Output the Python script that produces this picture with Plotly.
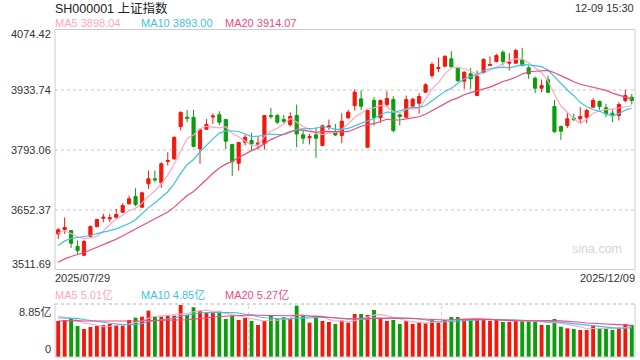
import plotly.graph_objects as go
import pandas as pd
import numpy as np

# ---------------- data ----------------
title_text = "SH000001 上证指数"
time_text = "12-09 15:30"
first_date_label = "2025/07/29"
last_date_label = "2025/12/09"
price_ticks = [4074.42, 3933.74, 3793.06, 3652.37, 3511.69]
ma_legend = ["MA5 3898.04", "MA10 3893.00", "MA20 3914.07"]
vol_legend = ["MA5 5.01亿", "MA10 4.85亿", "MA20 5.27亿"]
vol_ticks = ["8.85亿", "0"]
vol_max = 8.85

opens = [3595.3, 3605.4, 3603.0, 3565.5, 3545.1, 3589.7, 3612.4, 3631.9, 3630.5, 3634.2,
         3646.0, 3665.7, 3682.8, 3657.7, 3712.6, 3724.3, 3714.9, 3764.9, 3771.2, 3846.9,
         3868.7, 3868.0, 3794.6, 3840.6, 3869.2, 3874.6, 3863.3, 3804.7, 3760.9, 3810.1,
         3814.1, 3805.4, 3806.4, 3872.7, 3872.7, 3863.3, 3851.2, 3872.7, 3827.5, 3820.4,
         3827.5, 3802.4, 3846.2, 3835.2, 3825.8, 3867.3, 3896.2, 3911.9, 3798.4, 3907.9,
         3867.3, 3898.5, 3910.2, 3874.4, 3868.7, 3894.5, 3901.6, 3927.4, 3966.5, 3982.9,
         3988.3, 4005.7, 3983.6, 3953.2, 3970.5, 3919.6, 3974.3, 3990.0, 3999.4, 4021.2,
         3995.4, 3995.4, 4004.0, 3984.6, 3960.2, 3936.7, 3956.4, 3893.8, 3846.9, 3849.3,
         3866.4, 3865.0, 3868.7, 3892.2, 3905.6, 3890.8, 3878.1, 3872.7, 3907.9, 3915.6]
highs = [3609.4, 3633.5, 3604.7, 3579.6, 3581.2, 3614.8, 3630.5, 3642.2, 3642.2, 3653.9,
         3667.1, 3685.1, 3702.2, 3694.5, 3743.7, 3743.7, 3763.2, 3786.7, 3823.5, 3882.8,
         3886.1, 3886.1, 3842.2, 3864.5, 3877.4, 3882.8, 3865.0, 3806.4, 3811.1, 3827.5,
         3832.2, 3824.2, 3874.0, 3890.8, 3876.7, 3873.9, 3880.5, 3898.5, 3837.5, 3829.8,
         3845.3, 3851.6, 3863.3, 3853.3, 3878.1, 3886.1, 3933.7, 3931.3, 3886.0, 3915.6,
         3910.2, 3929.7, 3918.0, 3876.7, 3919.6, 3914.2, 3925.0, 3948.5, 3997.7, 4008.7,
         4013.4, 4023.5, 3985.0, 3975.9, 3984.6, 3978.2, 4007.1, 4011.1, 4017.4, 4025.1,
         4018.8, 4029.1, 4031.5, 3990.0, 3964.2, 3957.1, 3966.5, 3909.5, 3849.3, 3879.1,
         3876.7, 3892.2, 3888.4, 3913.3, 3907.9, 3900.2, 3888.4, 3903.9, 3933.7, 3923.6]
lows = [3583.6, 3595.3, 3562.5, 3548.4, 3543.0, 3585.9, 3610.8, 3622.5, 3622.5, 3630.5,
        3644.0, 3664.0, 3660.0, 3656.3, 3700.8, 3716.3, 3703.2, 3755.5, 3768.8, 3837.5,
        3857.0, 3798.0, 3759.5, 3839.2, 3853.3, 3849.3, 3794.2, 3731.3, 3743.7, 3802.4,
        3790.6, 3793.0, 3793.0, 3865.0, 3853.3, 3853.3, 3846.9, 3798.4, 3806.4, 3804.7,
        3773.5, 3801.0, 3839.2, 3825.0, 3807.8, 3865.0, 3884.5, 3886.1, 3797.0, 3849.3,
        3855.6, 3893.8, 3833.6, 3849.3, 3867.3, 3888.4, 3876.7, 3926.0, 3960.2, 3974.3,
        3986.0, 3986.0, 3952.5, 3935.3, 3935.3, 3918.0, 3972.9, 3989.0, 3997.7, 3990.0,
        3978.2, 3994.0, 3987.6, 3958.8, 3925.0, 3927.4, 3925.0, 3832.0, 3815.7, 3843.9,
        3859.4, 3854.7, 3854.7, 3890.8, 3886.1, 3868.7, 3857.0, 3861.0, 3903.9, 3898.5]
closes = [3604.7, 3610.0, 3573.3, 3556.1, 3577.3, 3612.4, 3628.8, 3634.2, 3632.8, 3640.6,
          3661.7, 3677.4, 3664.0, 3691.5, 3724.3, 3721.9, 3759.5, 3767.2, 3821.8, 3879.8,
          3866.4, 3800.4, 3839.2, 3851.6, 3871.6, 3857.0, 3812.5, 3764.2, 3809.4, 3821.8,
          3806.4, 3807.8, 3872.7, 3870.4, 3857.0, 3859.1, 3870.4, 3829.3, 3819.5, 3823.5,
          3819.5, 3848.6, 3848.1, 3827.0, 3859.4, 3880.5, 3927.4, 3894.5, 3884.5, 3867.3,
          3907.9, 3912.6, 3837.5, 3870.4, 3910.2, 3911.0, 3917.3, 3944.7, 3992.3, 3985.3,
          4011.8, 3987.0, 3954.0, 3974.3, 3958.8, 3964.9, 4004.0, 3992.3, 4013.4, 3999.4,
          3997.7, 4025.1, 3990.0, 3970.5, 3936.7, 3943.1, 3927.4, 3835.0, 3835.9, 3865.0,
          3863.3, 3870.4, 3884.5, 3907.9, 3893.8, 3876.7, 3875.1, 3898.5, 3919.6, 3907.9]
# closes of the 19 sessions before the first candle (warm-up for the moving averages)
prior_closes = [3454.8, 3461.2, 3472.3, 3473.1, 3497.5, 3493.1, 3509.7, 3510.2, 3519.7, 3505.0,
                3503.8, 3516.8, 3534.5, 3559.8, 3581.9, 3582.3, 3605.7, 3593.7, 3597.9]

volumes = [6.01, 6.18, 6.46, 5.18, 4.68, 5.01, 5.18, 5.34, 5.51, 5.34,
           5.23, 6.18, 6.57, 6.73, 7.74, 6.73, 6.73, 6.90, 6.90, 8.68,
           7.01, 8.30, 7.74, 7.40, 7.40, 7.46, 6.35, 6.90, 6.18, 6.51,
           6.01, 5.34, 6.01, 7.01, 6.35, 6.63, 6.46, 8.57, 6.90, 5.73,
           6.90, 6.01, 5.85, 5.51, 6.07, 5.73, 7.18, 7.18, 7.01, 7.85,
           6.35, 6.01, 6.18, 5.51, 6.01, 5.51, 5.73, 5.62, 6.29, 5.73,
           6.18, 6.68, 6.68, 6.29, 6.18, 6.46, 6.29, 6.01, 6.18, 5.85,
           5.85, 6.18, 6.01, 6.01, 5.90, 5.34, 5.34, 6.35, 5.06, 4.79,
           4.68, 4.51, 4.51, 5.34, 4.68, 4.79, 4.51, 4.90, 5.51, 5.34]
prior_volumes = [5.3, 5.6, 5.4, 5.8, 5.2, 5.7, 5.5, 5.6, 5.4, 5.5,
                 6.0, 6.3, 6.1, 6.4, 6.2, 6.9, 7.2, 7.0, 6.9]

# trading days (National Day holiday excluded)
dates = [d.strftime("%Y/%m/%d") for d in pd.bdate_range("2025-07-29", "2025-12-09")
         if not (pd.Timestamp("2025-10-01") <= d <= pd.Timestamp("2025-10-08"))]

# ---------------- styles ----------------
RED = "#f1180c"
GREEN = "#0c9c0c"
C_MA5 = "#ffa6c4"
C_MA10 = "#3dc3e2"
C_MA20 = "#ee4a84"
TXT = "#333333"
BORDER = "#cccccc"
FONT = "Liberation Sans, Arial, Noto Sans CJK SC, sans-serif"
W, H = 640, 360


def px(x):
    return x / W


def py(y):
    return 1 - y / H


def moving_average(prior, values, n):
    arr = list(prior) + list(values)
    k = len(prior)
    return [float(np.mean(arr[i - n + 1:i + 1])) for i in range(k, len(arr))]


ma5 = moving_average(prior_closes, closes, 5)
ma10 = moving_average(prior_closes, closes, 10)
ma20 = moving_average(prior_closes, closes, 20)
vma5 = moving_average(prior_volumes, volumes, 5)
vma10 = moving_average(prior_volumes, volumes, 10)
vma20 = moving_average(prior_volumes, volumes, 20)

bar_colors = [RED if c >= o else GREEN for o, c in zip(opens, closes)]

fig = go.Figure()
fig.add_trace(go.Candlestick(
    x=dates, open=opens, high=highs, low=lows, close=closes,
    increasing=dict(line=dict(color=RED, width=1), fillcolor=RED),
    decreasing=dict(line=dict(color=GREEN, width=1), fillcolor=GREEN),
    whiskerwidth=0, hoverinfo="skip", xaxis="x", yaxis="y", showlegend=False))
for vals, col in [(ma5, C_MA5), (ma10, C_MA10), (ma20, C_MA20)]:
    fig.add_trace(go.Scatter(x=dates, y=vals, mode="lines", line=dict(color=col, width=1.2),
                             hoverinfo="skip", xaxis="x", yaxis="y", showlegend=False))

fig.add_trace(go.Bar(x=dates, y=volumes, marker=dict(color=bar_colors, line=dict(width=0)),
                     width=0.6, hoverinfo="skip", xaxis="x2", yaxis="y2", showlegend=False))
for vals, col in [(vma5, C_MA5), (vma10, C_MA10), (vma20, C_MA20)]:
    fig.add_trace(go.Scatter(x=dates, y=vals, mode="lines", line=dict(color=col, width=1.1),
                             hoverinfo="skip", xaxis="x2", yaxis="y2", showlegend=False))

xdom = [px(55), px(635)]
main_top, main_bot = 29.5, 269.5
vol_top, vol_bot = 304, 357
xrange_ = [-0.5, len(dates) - 0.5]

fig.update_layout(
    width=W, height=H, margin=dict(l=0, r=0, t=0, b=0),
    paper_bgcolor="white", plot_bgcolor="white",
    font=dict(family=FONT, size=11, color=TXT),
    showlegend=False,
    xaxis=dict(domain=xdom, range=xrange_, type="category", showticklabels=False, showgrid=False,
               zeroline=False, showline=False, ticks="", rangeslider=dict(visible=False), anchor="y"),
    yaxis=dict(domain=[py(main_bot), py(main_top)], range=[price_ticks[-1], price_ticks[0]],
               tickvals=price_ticks[1:-1], showticklabels=False, showgrid=True,
               gridcolor="#e2e2e2", gridwidth=2, griddash="dot", zeroline=False, showline=False,
               ticks="", anchor="x"),
    xaxis2=dict(domain=xdom, range=xrange_, type="category", showticklabels=False, showgrid=False,
                zeroline=False, showline=False, ticks="", anchor="y2"),
    yaxis2=dict(domain=[py(vol_bot), py(vol_top)], range=[0, vol_max], showticklabels=False,
                showgrid=False, zeroline=False, showline=False, ticks="", anchor="x2"),
    bargap=0.4,
)

shapes = [
    dict(type="rect", xref="paper", yref="paper", x0=px(55), x1=px(635), y0=py(main_bot), y1=py(main_top),
         line=dict(color=BORDER, width=1), layer="above"),
    dict(type="line", xref="paper", yref="paper", x0=px(55), x1=px(635), y0=py(vol_top), y1=py(vol_top),
         line=dict(color=BORDER, width=1.5, dash="dot")),
    dict(type="line", xref="paper", yref="paper", x0=px(55), x1=px(55), y0=py(vol_bot), y1=py(vol_top),
         line=dict(color=BORDER, width=1)),
    dict(type="line", xref="paper", yref="paper", x0=px(635), x1=px(635), y0=py(vol_bot), y1=py(vol_top),
         line=dict(color=BORDER, width=1)),
    dict(type="line", xref="paper", yref="paper", x0=px(55), x1=px(635), y0=py(vol_bot), y1=py(vol_bot),
         line=dict(color=BORDER, width=1)),
]
for xv in (55 + 580 / 3, 55 + 2 * 580 / 3):
    shapes.append(dict(type="line", xref="paper", yref="paper", x0=px(xv), x1=px(xv),
                       y0=py(vol_bot), y1=py(vol_top), line=dict(color=BORDER, width=1, dash="dot"),
                       layer="below"))
fig.update_layout(shapes=shapes)

ann = []


def text(x, y, s, anchor="left", size=11, color=TXT):
    ann.append(dict(x=px(x), y=py(y), xref="paper", yref="paper", text=s, showarrow=False,
                    xanchor=anchor, yanchor="middle", font=dict(size=size, color=color, family=FONT)))


text(53, 8, title_text, size=12.5, color="#222222")
text(636, 8, time_text, anchor="right", size=11)
for s, x, c in zip(ma_legend, [53, 139, 223], [C_MA5, C_MA10, C_MA20]):
    text(x, 23.5, s, size=11, color=c)
for s, x, c in zip(vol_legend, [53, 139, 223], [C_MA5, C_MA10, C_MA20]):
    text(x, 294.5, s, size=11, color=c)
tick_y = [33.5, 90, 150, 210, 264]
for v, yv in zip(price_ticks, tick_y):
    text(53, yv, f"{v:.2f}", anchor="right")
text(53, 311.5, vol_ticks[0], anchor="right")
text(53, 348.5, vol_ticks[1], anchor="right")
text(53, 277.5, first_date_label)
text(637, 277.5, last_date_label, anchor="right")
text(624, 249, "sina.com", anchor="right", size=12.5, color="#d4d4d4")
fig.update_layout(annotations=ann)

fig.write_html("out.html", include_plotlyjs=True, config={"staticPlot": True},
               post_script="document.body.style.margin='0px';document.body.style.overflow='hidden';")
